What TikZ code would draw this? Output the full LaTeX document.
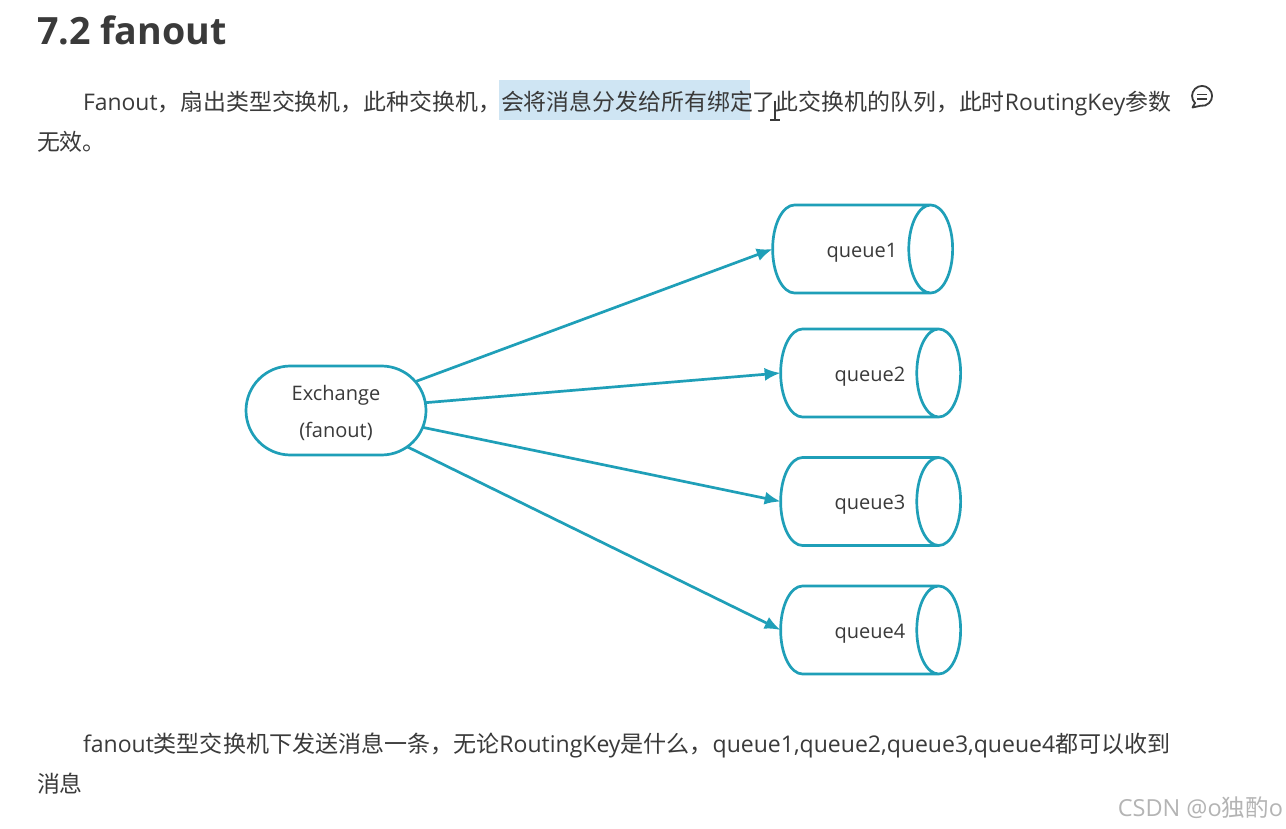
\documentclass[tikz,border=0pt]{standalone}
\usepackage{fontspec}
\setmainfont{Open Sans}
\newfontfamily\cjk{Noto Sans CJK SC}
\usetikzlibrary{shapes.geometric,shapes.misc,arrows.meta}
\definecolor{teal}{HTML}{1F9FB8}
\definecolor{ink}{HTML}{3A3A3A}
\definecolor{hl}{HTML}{CFE5F3}
\definecolor{wm}{HTML}{B4B4B4}
\newcommand{\qlabel}[1]{\hspace*{22pt}\rule{0pt}{21pt}#1}
\tikzset{
  every node/.style={inner sep=0pt,outer sep=0pt,text=ink},
  bodytext/.style={anchor=base west,font=\fontsize{22.9}{26}\selectfont},
  bodywide/.style={anchor=base west,font=\fontsize{23.03}{26}\selectfont},
  labeltext/.style={font=\fontsize{20}{24}\selectfont},
  queuebox/.style={draw=teal,line width=2.7pt,cylinder,shape border rotate=0,aspect=1.7,
    minimum height=180pt,minimum width=88pt,labeltext},
  exbox/.style={draw=teal,line width=2.7pt,rounded rectangle,minimum width=180pt,minimum height=89pt,
    align=center,labeltext},
  link/.style={draw=teal,line width=2.7pt,-{Latex[length=16pt,width=13pt]}},
}
\begin{document}
\begin{tikzpicture}[x=1pt,y=-1pt]
\useasboundingbox (0,0) rectangle (1286,829);
\fill[white] (0,0) rectangle (1286,829);
\fill[hl] (499,80) rectangle (750,120);
\node[anchor=base west,font=\bfseries\fontsize{37.6}{40}\selectfont] (title) at (37,44.5) {7.2 fanout};
\node[bodytext] (p1) at (83,111) {Fanout{\cjk ，扇出类型交换机，此种交换机，会将消息分发给所有绑定了此交换机的队列，此时}RoutingKey{\cjk 参数}};
\node[bodytext] (p1b) at (37,151) {\cjk 无效。};
\node[bodywide] (p2) at (83,752) {fanout{\cjk 类型交换机下发送消息一条，无论}RoutingKey{\cjk 是什么，}queue1,queue2,queue3,queue4{\cjk 都可以收到}};
\node[bodytext] (p2b) at (37,792) {\cjk 消息};
\node[anchor=base east,text=wm,font=\fontsize{23.5}{26}\selectfont] (mark) at (1283,816) {CSDN @o{\cjk 独酌}o};
% cursor
\draw[ink,line width=1.2pt] (775,101) -- (775,119) (770,120) -- (780,120);
% comment icon
\draw[ink,line width=1.8pt,line join=round] (1192.5,107.5) -- (1195,103)
  arc[start angle=135,end angle=460,radius=10] -- cycle;
\draw[ink,line width=1.6pt] (1197,94.5) -- (1207,94.5) (1197,99) -- (1207,99);
% diagram
\node[exbox] (ex) at (336,410.5) {\rule{0pt}{20pt}Exchange\\[13pt](fanout)};
\node[queuebox] (q1) at (851,249) {\qlabel{queue1}};
\node[queuebox] (q2) at (859,373) {\qlabel{queue2}};
\node[queuebox] (q3) at (859,501.5) {\qlabel{queue3}};
\node[queuebox] (q4) at (859,630) {\qlabel{queue4}};
\draw[link] (ex.20) -- (q1.west);
\draw[link] (ex.5) -- (q2.west);
\draw[link] (ex.-11) -- (q3.west);
\draw[link] (ex.-27) -- (q4.west);
\end{tikzpicture}
\end{document}
